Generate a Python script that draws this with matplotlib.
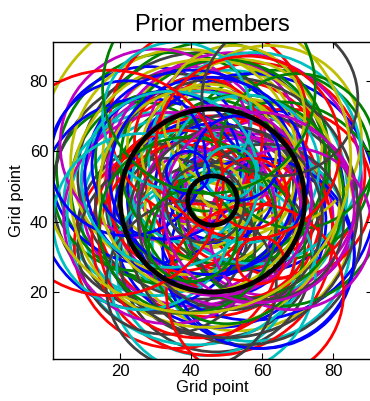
import matplotlib
matplotlib.use("Agg")
import matplotlib.pyplot as plt
from matplotlib.patches import Circle

# Ensemble prior members: circle centres (grid points) and radii
member_cx = [46, 40, 52, 48, 43, 55, 38, 50,
             44, 52, 37, 56, 41, 47, 60, 33,
             45, 50, 40, 53, 43, 48, 35, 58,
             30, 62, 46, 47, 28, 64, 36, 57,
             39, 54, 32, 60, 25, 67, 44, 49,
             42, 51, 47, 44, 53, 39, 56, 45,
             35, 57, 46, 46, 41, 52, 38, 55,
             27, 65, 45, 46, 30, 62, 33, 59,
             49, 42, 58, 34, 44, 50, 40, 54,
             37, 55, 48, 45, 61, 33, 50, 42,
             26, 68, 52, 40, 22, 70, 58, 36,
             47, 43, 51, 45, 39, 56, 34, 59,
             48, 44, 53, 40, 57]
member_cy = [47, 52, 44, 55, 40, 50, 45, 38,
             50, 53, 42, 41, 58, 36, 49, 50,
             45, 49, 47, 42, 53, 40, 55, 54,
             45, 44, 62, 30, 56, 56, 33, 34,
             62, 63, 38, 30, 50, 48, 27, 65,
             44, 47, 51, 56, 39, 50, 46, 42,
             48, 47, 58, 36, 41, 52, 57, 38,
             45, 45, 68, 25, 62, 64, 33, 31,
             57, 35, 58, 41, 48, 44, 53, 47,
             46, 55, 43, 60, 40, 56, 33, 63,
             40, 38, 70, 22, 58, 60, 20, 70,
             46, 49, 41, 53, 39, 61, 52, 44,
             50, 45, 58, 36, 48]
member_r = [12, 18, 16, 10, 20, 14, 22, 19,
            25, 27, 28, 24, 26, 29, 23, 27,
            32, 34, 31, 33, 35, 30, 33, 31,
            26, 25, 24, 27, 28, 27, 29, 28,
            22, 23, 24, 26, 24, 24, 25, 21,
            15, 20, 17, 13, 21, 16, 18, 9,
            34, 35, 33, 34, 36, 36, 32, 33,
            30, 29, 28, 29, 27, 26, 25, 27,
            29, 28, 30, 30, 38, 37, 30, 29,
            20, 21, 23, 19, 22, 21, 22, 18,
            25, 23, 20, 24, 22, 22, 25, 21,
            27, 29, 26, 28, 25, 26, 25, 27,
            6, 11, 12, 13, 10]

# A few clearly identifiable members
extra_cx = [65, 41, 17, 51, 39, 59.5, 45]
extra_cy = [75, 58, 51, 54, 54, 29, 78]
extra_r = [22, 44, 32, 7.4, 6, 6.6, 30]
extra_col = ["k", "y", "r", "c", "b", "r", "g"]

# Truth / reference circles
truth_cx = [46, 46]
truth_cy = [46, 46]
truth_r = [7, 26]

palette = {"b": (0, 0, 1), "g": (0, 0.5, 0), "r": (1, 0, 0),
           "c": (0, 0.75, 0.75), "m": (0.75, 0, 0.75),
           "y": (0.75, 0.75, 0), "k": (0.25, 0.25, 0.25)}
cycle = ["b", "g", "r", "c", "m", "y", "k"]

plt.rcParams["font.family"] = ["Liberation Sans", "DejaVu Sans"]
fig = plt.figure(figsize=(3.70, 4.01), dpi=100)
ax = fig.add_axes([53 / 370, 1 - 359 / 401, 319 / 370, 317 / 401])

for i, (x, y, r) in enumerate(zip(member_cx, member_cy, member_r)):
    ax.add_patch(Circle((x, y), r, fill=False, lw=2.0,
                        edgecolor=palette[cycle[i % 7]]))
for x, y, r, c in zip(extra_cx, extra_cy, extra_r, extra_col):
    ax.add_patch(Circle((x, y), r, fill=False, lw=2.0, edgecolor=palette[c]))
for x, y, r in zip(truth_cx, truth_cy, truth_r):
    ax.add_patch(Circle((x, y), r, fill=False, lw=3.4, edgecolor="black"))

ax.set_xlim(1, 91)
ax.set_ylim(1, 91)
ax.set_xticks([20, 40, 60, 80])
ax.set_yticks([20, 40, 60, 80])
ax.tick_params(direction="in", top=True, right=True, length=4, width=0.8,
               labelsize=12)
for s in ax.spines.values():
    s.set_linewidth(1.0)
ax.set_title("Prior members", fontsize=17, pad=8)
ax.set_xlabel("Grid point", fontsize=12, labelpad=1)
ax.set_ylabel("Grid point", fontsize=12, labelpad=4)

fig.savefig("out.png", dpi=100)
